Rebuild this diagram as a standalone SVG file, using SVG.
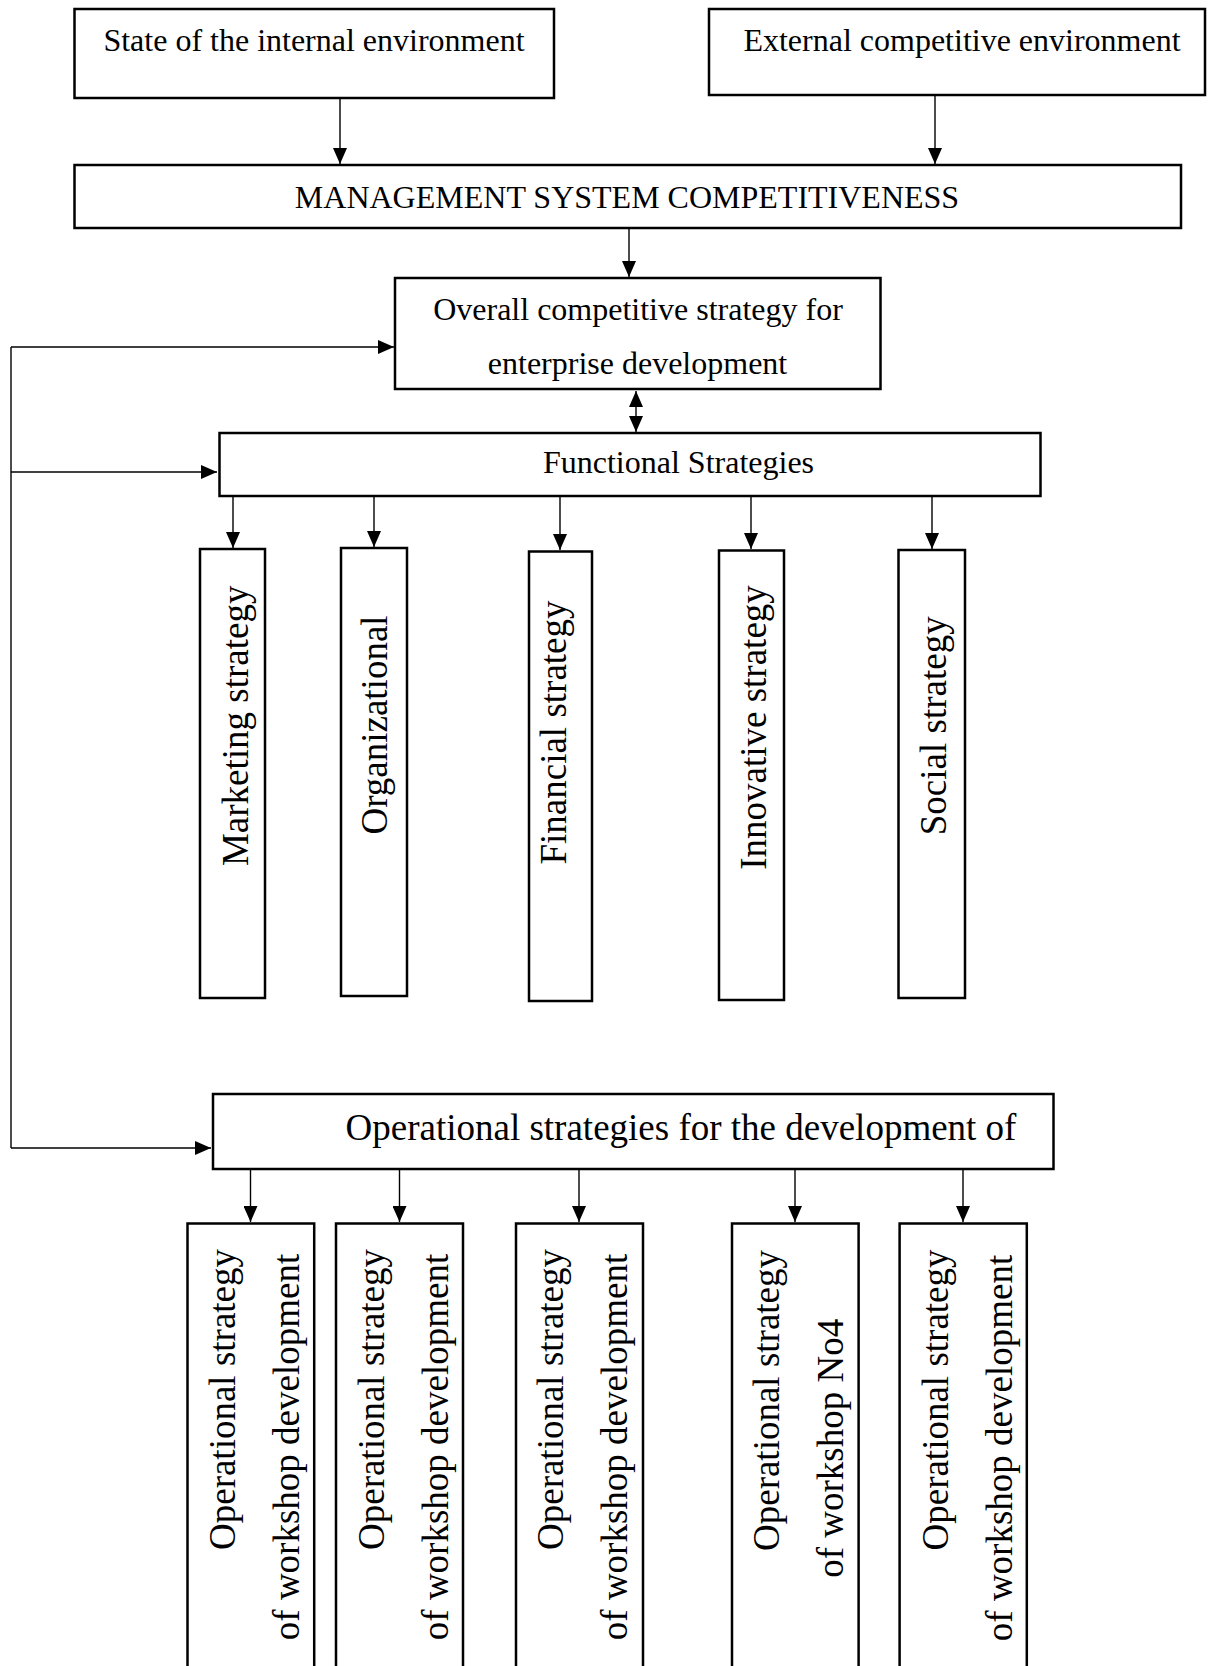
<svg xmlns="http://www.w3.org/2000/svg" width="1209" height="1666" viewBox="0 0 1209 1666">
<style>
  .box { fill: #ffffff; stroke: #000000; stroke-width: 2.5; }
  .t32 { font-family: "Liberation Serif", "Times New Roman", serif; font-size: 32px; fill: #000000; }
  .t37 { font-family: "Liberation Serif", "Times New Roman", serif; font-size: 37px; fill: #000000; }
  .mid { text-anchor: middle; }
  .conn { fill: none; stroke: #000000; stroke-width: 1.4; }
</style>
<defs>
  <marker id="ah" viewBox="0 0 16 14" markerWidth="16" markerHeight="14" markerUnits="userSpaceOnUse" refX="16" refY="7" orient="auto-start-reverse">
    <path d="M0,0 L16,7 L0,14 z" fill="#000000"/>
  </marker>
</defs>
<rect width="1209" height="1666" fill="#ffffff"/>

<g id="connectors">
  <line class="conn" x1="340" y1="98" x2="340" y2="164" marker-end="url(#ah)"/>
  <line class="conn" x1="935" y1="95" x2="935" y2="164" marker-end="url(#ah)"/>
  <line class="conn" x1="629" y1="228" x2="629" y2="277" marker-end="url(#ah)"/>
  <line class="conn" x1="636" y1="391" x2="636" y2="432" marker-start="url(#ah)" marker-end="url(#ah)"/>
  <line class="conn" x1="11" y1="347" x2="11" y2="1148"/>
  <line class="conn" x1="11" y1="347" x2="394" y2="347" marker-end="url(#ah)"/>
  <line class="conn" x1="11" y1="472" x2="217" y2="472" marker-end="url(#ah)"/>
  <line class="conn" x1="11" y1="1148" x2="211" y2="1148" marker-end="url(#ah)"/>
  <line class="conn" x1="233" y1="496" x2="233" y2="548" marker-end="url(#ah)"/>
  <line class="conn" x1="374" y1="496" x2="374" y2="547" marker-end="url(#ah)"/>
  <line class="conn" x1="560" y1="496" x2="560" y2="550" marker-end="url(#ah)"/>
  <line class="conn" x1="751" y1="496" x2="751" y2="549" marker-end="url(#ah)"/>
  <line class="conn" x1="932" y1="496" x2="932" y2="549" marker-end="url(#ah)"/>
  <line class="conn" x1="250.5" y1="1169" x2="250.5" y2="1222" marker-end="url(#ah)"/>
  <line class="conn" x1="399.5" y1="1169" x2="399.5" y2="1222" marker-end="url(#ah)"/>
  <line class="conn" x1="579" y1="1169" x2="579" y2="1222" marker-end="url(#ah)"/>
  <line class="conn" x1="795" y1="1169" x2="795" y2="1222" marker-end="url(#ah)"/>
  <line class="conn" x1="963" y1="1169" x2="963" y2="1222" marker-end="url(#ah)"/>
</g>

<g id="internal-environment">
  <rect class="box" x="74.5" y="9" width="479.5" height="89"/>
  <text class="t32 mid" x="314" y="50.5">State of the internal environment</text>
</g>
<g id="external-environment">
  <rect class="box" x="709" y="9" width="496" height="86"/>
  <text class="t32 mid" x="962" y="50.5">External competitive environment</text>
</g>
<g id="management-system">
  <rect class="box" x="74.5" y="165" width="1106.5" height="63"/>
  <text class="t32 mid" x="627" y="208">MANAGEMENT SYSTEM COMPETITIVENESS</text>
</g>
<g id="overall-strategy">
  <rect class="box" x="395" y="278" width="485.5" height="111"/>
  <text class="t32 mid" x="638" y="320">Overall competitive strategy for</text>
  <text class="t32 mid" x="637.5" y="374">enterprise development</text>
</g>
<g id="functional-strategies">
  <rect class="box" x="219.5" y="433" width="821" height="63"/>
  <text class="t32 mid" x="678.5" y="473">Functional Strategies</text>
</g>

<g id="marketing-strategy">
  <rect class="box" x="200" y="549" width="65" height="449"/>
  <text class="t37 mid" transform="translate(247.6,725.8) rotate(-90)">Marketing strategy</text>
</g>
<g id="organizational">
  <rect class="box" x="341" y="548" width="66" height="448"/>
  <text class="t37 mid" transform="translate(387,725) rotate(-90)">Organizational</text>
</g>
<g id="financial-strategy">
  <rect class="box" x="529" y="551.5" width="63" height="449.5"/>
  <text class="t37 mid" transform="translate(566,732.5) rotate(-90)">Financial strategy</text>
</g>
<g id="innovative-strategy">
  <rect class="box" x="719" y="550.5" width="65" height="449.5"/>
  <text class="t37 mid" transform="translate(766,727.5) rotate(-90)">Innovative strategy</text>
</g>
<g id="social-strategy">
  <rect class="box" x="898.5" y="550" width="66.5" height="448"/>
  <text class="t37 mid" transform="translate(946,725.8) rotate(-90)">Social strategy</text>
</g>

<g id="operational-strategies">
  <rect class="box" x="213" y="1094" width="840.5" height="75"/>
  <text class="t37 mid" x="681" y="1140">Operational strategies for the development of</text>
</g>

<g id="workshop-1">
  <rect class="box" x="187.5" y="1223.5" width="126.7" height="470"/>
  <text class="t37 mid" transform="translate(235,1399.5) rotate(-90)">Operational strategy</text>
  <text class="t37 mid" transform="translate(299,1447) rotate(-90)">of workshop development</text>
</g>
<g id="workshop-2">
  <rect class="box" x="336" y="1223.5" width="127" height="470"/>
  <text class="t37 mid" transform="translate(383.5,1399.5) rotate(-90)">Operational strategy</text>
  <text class="t37 mid" transform="translate(447.5,1447) rotate(-90)">of workshop development</text>
</g>
<g id="workshop-3">
  <rect class="box" x="516" y="1223.5" width="127" height="470"/>
  <text class="t37 mid" transform="translate(563.3,1399.5) rotate(-90)">Operational strategy</text>
  <text class="t37 mid" transform="translate(627.3,1447) rotate(-90)">of workshop development</text>
</g>
<g id="workshop-4">
  <rect class="box" x="732" y="1223.5" width="126.6" height="470"/>
  <text class="t37 mid" transform="translate(778.8,1400.5) rotate(-90)">Operational strategy</text>
  <text class="t37 mid" transform="translate(842.8,1448.3) rotate(-90)">of workshop No4</text>
</g>
<g id="workshop-5">
  <rect class="box" x="899.6" y="1223.5" width="127.2" height="470"/>
  <text class="t37 mid" transform="translate(947.5,1400) rotate(-90)">Operational strategy</text>
  <text class="t37 mid" transform="translate(1011.5,1448) rotate(-90)">of workshop development</text>
</g>
</svg>
